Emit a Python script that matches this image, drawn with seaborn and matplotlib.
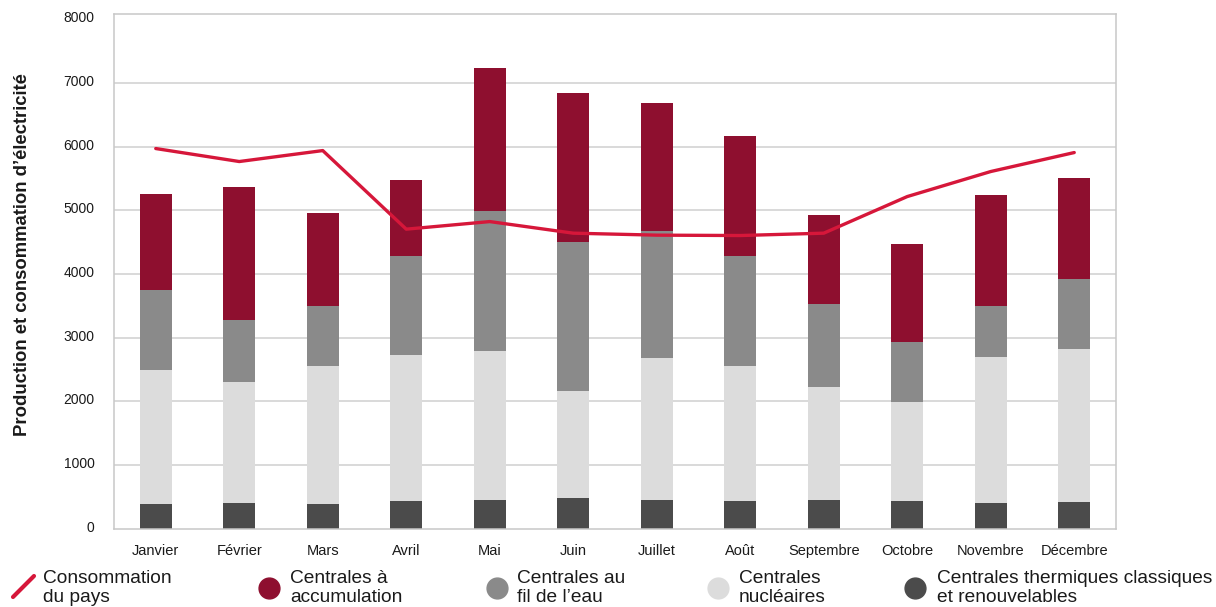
import numpy as np
import pandas as pd
import matplotlib
matplotlib.use("Agg")
import matplotlib.pyplot as plt
import matplotlib.transforms as mtransforms
from matplotlib.lines import Line2D
import seaborn as sns

# Monthly electricity production by plant type and national consumption (GWh)
mois = ["Janvier", "Février", "Mars", "Avril", "Mai", "Juin", "Juillet",
        "Août", "Septembre", "Octobre", "Novembre", "Décembre"]
thermique = [390, 405, 390, 437, 452, 484, 452, 437, 452, 437, 405, 421]
nucleaire = [2104, 1900, 2167, 2292, 2340, 1680, 2231, 2120, 1775, 1554, 2293, 2402]
fil_eau = [1256, 974, 942, 1556, 2199, 2340, 1994, 1728, 1303, 942, 801, 1100]
accumulation = [1508, 2088, 1459, 1191, 2246, 2340, 2010, 1883, 1398, 1537, 1743, 1587]
consommation = [5970, 5766, 5938, 4704, 4823, 4641, 4610, 4604, 4641, 5216, 5609, 5907]
y_ticks = [0, 1000, 2000, 3000, 4000, 5000, 6000, 7000, 8000]

legende = ["Consommation\ndu pays", "Centrales à\naccumulation",
           "Centrales au\nfil de l\u2019eau", "Centrales\nnucléaires",
           "Centrales thermiques classiques\net renouvelables"]

ROUGE = "#D6173A"
COULEURS = {"accumulation": "#8E0F2F", "fil_eau": "#8A8A8A",
            "nucleaire": "#DCDCDC", "thermique": "#4B4B4B"}
TEXTE = "#1A1A1A"
GRILLE = "#CFCFCF"

sns.set_theme(style="white")
plt.rcParams["font.family"] = ["Liberation Sans", "DejaVu Sans"]

df = pd.DataFrame({"mois": mois, "thermique": thermique, "nucleaire": nucleaire,
                   "fil_eau": fil_eau, "accumulation": accumulation})
# cumulative heights, stacked from the bottom
cum = df[["thermique", "nucleaire", "fil_eau", "accumulation"]].cumsum(axis=1)
cum["mois"] = df["mois"]

W, H = 1216, 607
fig = plt.figure(figsize=(W / 100, H / 100), dpi=100)
ax = fig.add_axes([114 / W, 1 - 533.3 / H, (1116 - 114) / W, (533.3 - 14.3) / H])

# draw tallest layer first so each lower layer overlays it
for col in ["accumulation", "fil_eau", "nucleaire", "thermique"]:
    sns.barplot(data=cum, x="mois", y=col, order=mois, color=COULEURS[col],
                saturation=1, width=0.38, linewidth=0, ax=ax, zorder=2)

sns.lineplot(x=np.arange(len(mois)), y=consommation, color=ROUGE, linewidth=2.4,
             ax=ax, zorder=4, solid_capstyle="round", solid_joinstyle="round")

ax.set_xlim(-0.5, len(mois) - 0.5)
ax.set_ylim(-72, 8078)
ax.set_yticks(y_ticks)
ax.set_yticklabels([str(v) for v in y_ticks])
ax.set_xlabel("")
ax.set_ylabel("Production et consommation d\u2019électricité", fontsize=13.3,
              fontweight="bold", color=TEXTE)
ax.yaxis.set_label_coords(-0.083, 0.537)

ax.yaxis.grid(True, color=GRILLE, linewidth=1.1)
ax.xaxis.grid(False)
ax.set_axisbelow(True)
grid_lines = ax.yaxis.get_gridlines()
grid_lines[0].set_visible(False)
grid_lines[-1].set_visible(False)

for side in ["left", "right", "top", "bottom"]:
    ax.spines[side].set_visible(True)
    ax.spines[side].set_color("#C8C8C8")
    ax.spines[side].set_linewidth(1.1)
ax.spines["bottom"].set_position(("data", 0))
ax.spines["left"].set_bounds(0, 8078)
ax.spines["right"].set_bounds(0, 8078)

ax.tick_params(axis="y", length=0, pad=14, labelsize=10, labelcolor=TEXTE)
ax.tick_params(axis="x", length=0, pad=11, labelsize=10.5, labelcolor=TEXTE)
# y tick labels sit slightly above their gridlines
lift = mtransforms.ScaledTranslation(0, 2.5 / 100, fig.dpi_scale_trans)
for lbl in ax.get_yticklabels():
    lbl.set_transform(lbl.get_transform() + lift)

# legend row along the bottom edge
def fx(px):
    return px / W

def fy(py):
    return 1 - py / H

fig.add_artist(Line2D([fx(13), fx(34)], [fy(597), fy(576)], transform=fig.transFigure,
                      color=ROUGE, linewidth=3, solid_capstyle="round"))
marqueurs = [COULEURS["accumulation"], COULEURS["fil_eau"],
             COULEURS["nucleaire"], COULEURS["thermique"]]
x_marqueurs = [269, 497, 718, 915]
for xm, c in zip(x_marqueurs, marqueurs):
    fig.add_artist(Line2D([fx(xm)], [fy(588)], transform=fig.transFigure,
                          marker="o", markersize=15, color=c, linestyle="none"))
x_textes = [43, 290, 517, 739, 937]
for xt, txt in zip(x_textes, legende):
    fig.text(fx(xt), fy(588), txt, ha="left", va="center", fontsize=13.8,
             color=TEXTE, linespacing=1.15)

fig.savefig("out.png", dpi=100)
